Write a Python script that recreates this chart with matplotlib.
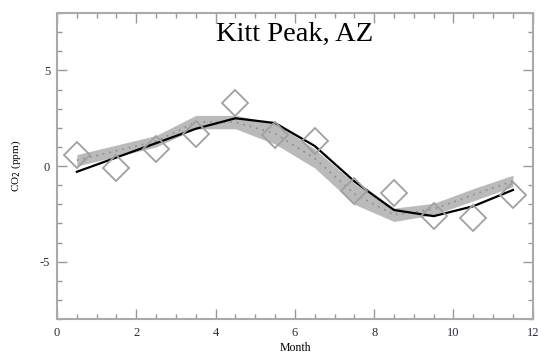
import numpy as np
import matplotlib
matplotlib.use('Agg')
import matplotlib.pyplot as plt
from matplotlib.ticker import MultipleLocator

plt.rcParams['font.family'] = ['Liberation Serif', 'DejaVu Serif']
plt.rcParams['axes.unicode_minus'] = False

# data
months = [0.5, 1.5, 2.5, 3.5, 4.5, 5.5, 6.5, 7.5, 8.5, 9.5, 10.5, 11.5]
obs = [0.6, -0.12, 0.9, 1.7, 3.3, 1.6, 1.3, -1.3, -1.4, -2.6, -2.7, -1.5]
model = [-0.3, 0.45, 1.2, 1.95, 2.5, 2.25, 1.05, -0.8, -2.3, -2.62, -2.1, -1.25]
band_mid = [0.3, 0.8, 1.3, 2.3, 2.3, 1.7, 0.4, -1.45, -2.55, -2.25, -1.5, -0.78]
band_half = [0.3, 0.3, 0.3, 0.35, 0.35, 0.55, 0.5, 0.55, 0.35, 0.3, 0.32, 0.3]

mid = np.array(band_mid)
half = np.array(band_half)

fig = plt.figure(figsize=(5.45, 3.54), dpi=100)
ax = fig.add_axes([0.1046, 0.0989, 0.873, 0.864])

ax.fill_between(months, mid - half, mid + half, color='#bababa', lw=0, zorder=1)
ax.plot(months, mid, color='#8c8c8c', ls=(0, (1, 3)), lw=1.2, zorder=2)
ax.plot(months, model, color='black', lw=1.6, zorder=3)
ax.plot(months, obs, ls='none', marker='D', ms=13.5, mfc='none', mec='#a0a0a0', mew=1.3, zorder=4)

ax.set_xlim(0, 12)
ax.set_ylim(-8, 8)
ax.xaxis.set_major_locator(MultipleLocator(2))
ax.xaxis.set_minor_locator(MultipleLocator(0.5))
ax.yaxis.set_major_locator(MultipleLocator(5))
ax.yaxis.set_minor_locator(MultipleLocator(1))
ax.tick_params(which='both', direction='in', top=True, right=True, color='#999999',
               labelsize=9, labelcolor='#2a2a40')
ax.tick_params(which='major', length=7, width=1)
ax.tick_params(which='minor', length=3.5, width=1)
ax.tick_params(axis='x', pad=6)
ax.tick_params(axis='y', pad=5)
for s in ax.spines.values():
    s.set_color('#aaaaaa')
    s.set_linewidth(1.5)

ax.set_xlabel('Month', fontsize=8.5, labelpad=2)
ax.set_ylabel('CO$_2$ (ppm)', fontsize=8, labelpad=12)
ax.text(6.0, 0.93, 'Kitt Peak, AZ', transform=ax.get_xaxis_transform(),
        ha='center', va='center', fontsize=20.5)

fig.savefig('out.png', dpi=100)
